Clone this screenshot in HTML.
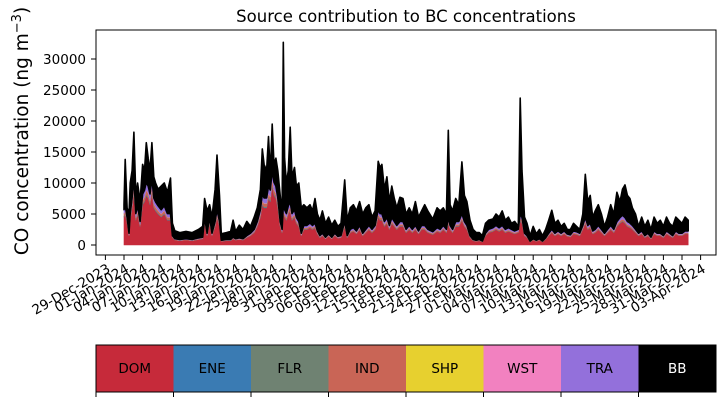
<!DOCTYPE html>
<html><head><meta charset="utf-8"><style>
html,body{margin:0;padding:0;background:#fff;width:725px;height:402px;overflow:hidden}
svg text{font-family:"DejaVu Sans","Liberation Sans",sans-serif;fill:#000}
</style></head><body>
<svg id="chart" width="725" height="402" viewBox="0 0 725 402" xmlns="http://www.w3.org/2000/svg">
<text x="406" y="22" font-size="16.5" text-anchor="middle">Source contribution to BC concentrations</text>
<text transform="translate(28,131) rotate(-90)" font-size="18.5" text-anchor="middle">CO concentration (ng m<tspan baseline-shift="super" font-size="13">−3</tspan>)</text>
<g id="areas"></g>
<g id="yaxis"></g>
<g id="xaxis"></g>
<rect x="96" y="30" width="620" height="225" fill="none" stroke="#000" stroke-width="1"/>
<g id="legend"></g>
</svg>
<script>
const times=[0,0.2,0.5,0.8,1,1.3,1.6,1.9,2.2,2.6,3,3.3,3.6,3.9,4.2,4.5,4.8,5.1,5.5,6,6.5,7,7.5,7.8,8.2,9,10,11,12,12.7,13,13.4,13.8,14.2,14.7,15,15.4,15.7,16.5,17.2,17.6,18,18.6,19.2,19.8,20.4,21,21.5,22,22.3,22.6,23,23.3,23.6,23.9,24.2,24.5,24.8,25.2,25.5,25.7,25.9,26.2,26.5,26.8,27.1,27.5,27.8,28.2,28.6,29,29.5,30,30.4,30.8,31.2,31.6,32,32.5,33,33.5,34,34.5,35,35.6,36,36.5,37,37.5,38,38.5,39,39.5,40,40.5,41,41.3,41.6,42,42.4,42.8,43.2,43.6,44,44.5,45,45.5,46,46.5,47,47.5,48,48.5,49,49.8,50.5,51,51.5,52,52.3,52.6,53,53.5,54,54.5,54.9,55.3,55.8,56.3,56.8,57.3,57.8,58.3,58.8,59.5,60,60.5,61,61.5,62,62.5,63,63.6,63.9,64.2,64.6,65,65.5,66,66.5,67,67.5,68,68.5,69,69.5,70,70.5,71,71.5,72,72.5,73,73.5,74,74.4,74.8,75.2,75.6,76,76.5,77,77.5,78,78.5,79,79.5,80,80.4,80.8,81.2,81.6,82,82.5,83,83.5,84,84.5,85,85.5,86,86.5,87,87.5,88,88.5,89,89.5,90,90.5,91];
const total=[6500,13800,6000,5000,10000,12000,18200,8000,10000,7000,13000,12000,16500,14000,12000,16500,11000,10000,9000,9500,10000,8500,10800,3500,2300,2000,2200,2000,2500,3000,7500,5500,6500,4500,9000,14500,8000,1800,2000,2200,4000,2200,3200,2500,3800,3000,4500,6000,9000,15500,13000,12000,17500,11500,19500,13000,14000,12000,8000,5000,32700,14000,10000,12000,19000,11000,12500,9500,10000,6000,6500,6000,6500,5500,7500,5000,4000,5500,3500,4500,3200,4000,3000,3500,10500,4000,6000,6500,5500,7000,5000,6000,6500,4500,5500,13500,12500,13000,9000,11000,7000,9500,7500,6000,7700,7500,5000,6000,5000,7000,4500,5500,6500,5500,4200,6000,5500,6000,5000,18500,6500,5500,7500,6500,13400,8000,7000,4000,2500,2000,2000,1500,3500,4000,4200,5000,4500,5500,4000,4500,3500,3800,3000,23700,12000,4500,3500,1500,3000,1800,2500,1500,2500,4000,5600,3500,4000,3000,3500,2500,2500,3500,3000,2500,5000,11400,7000,8000,4500,5500,6500,5000,3000,4500,6500,5000,8500,7000,9000,9700,8000,7500,6000,5000,3000,4500,3000,4000,2500,4500,3500,4000,3000,4500,3500,3000,4500,4000,3500,4500,4000];
const dom=[4500,5000,3500,1500,4000,6000,8500,4000,5000,3000,6500,7000,8000,7500,6500,8500,6000,5500,5000,4500,5000,4000,4000,1200,800,700,800,700,900,1000,3500,1500,3500,1500,3000,4500,3000,600,700,700,1000,800,900,800,1200,1500,2000,3000,4500,6500,6000,6000,7500,7000,9500,8000,7500,6000,3000,2000,5000,4500,4000,5000,5500,4000,4500,3500,3000,1500,2500,2500,2800,2500,2800,1800,1200,1500,1000,1400,1000,1500,1100,1200,3000,1200,2000,2200,1800,2500,1500,2000,2500,2000,2500,4500,4000,4000,3000,3500,2500,3500,3000,2500,3000,3000,2000,2500,2000,2500,1800,2500,2500,2000,1700,2200,2000,2500,2000,3500,2500,2000,3000,3000,4000,3000,2500,1200,700,600,700,500,1500,2000,2200,2500,2200,2500,2000,2200,2000,1800,2000,4000,3500,1500,1200,500,800,600,800,500,900,1500,2000,1500,1800,1500,1800,1400,1300,1800,1700,1500,2500,3500,2500,2800,1800,2000,2500,2000,1500,2000,2500,2000,3000,3500,3800,3500,3000,2800,2500,2000,1500,1800,1200,1500,1000,1800,1500,1500,1200,1800,1500,1200,1800,1500,1500,1800,1800];
const sources=["DOM","ENE","FLR","IND","SHP","WST","TRA","BB"];
const colors=["#c62a3a","#3a7bb3","#6f8272","#c96556","#e7d02f","#f281c0","#9370db","#000000"];
// share of each non-BB sector relative to DOM (read from band thicknesses)
const shareOfDom=[1,0.01,0.02,0.08,0.005,0.01,0.14];
const yTicks=[0,5000,10000,15000,20000,25000,30000];
const xTickLabels=["29-Dec-2023","01-Jan-2024","04-Jan-2024","07-Jan-2024","10-Jan-2024","13-Jan-2024","16-Jan-2024","19-Jan-2024","22-Jan-2024","25-Jan-2024","28-Jan-2024","31-Jan-2024","03-Feb-2024","06-Feb-2024","09-Feb-2024","12-Feb-2024","15-Feb-2024","18-Feb-2024","21-Feb-2024","24-Feb-2024","27-Feb-2024","01-Mar-2024","04-Mar-2024","07-Mar-2024","10-Mar-2024","13-Mar-2024","16-Mar-2024","19-Mar-2024","22-Mar-2024","25-Mar-2024","28-Mar-2024","31-Mar-2024","03-Apr-2024"];
const xTickDays=[-3,0,3,6,9,12,15,18,21,24,27,30,33,36,39,42,45,48,51,54,57,60,63,66,69,72,75,78,81,84,87,90,93];

const NS="http://www.w3.org/2000/svg";
const xS=d=>124+6.2*d;
const yS=v=>245-v*31/5000;
function mk(t,a){const e=document.createElementNS(NS,t);for(const k in a)e.setAttribute(k,a[k]);return e;}

const n=times.length;
let lower=new Array(n).fill(0);
const areas=document.getElementById('areas');
for(let s=0;s<sources.length;s++){
  const upper=[];
  for(let i=0;i<n;i++){
    let v;
    if(s<7) v=dom[i]*shareOfDom[s];
    else v=Math.max(0,total[i]-lower[i]);
    upper.push(lower[i]+v);
  }
  let pts=[];
  for(let i=0;i<n;i++)pts.push(xS(times[i]).toFixed(1)+","+yS(upper[i]).toFixed(1));
  for(let i=n-1;i>=0;i--)pts.push(xS(times[i]).toFixed(1)+","+yS(lower[i]).toFixed(1));
  const p=mk('polygon',{points:pts.join(' '),fill:colors[s],stroke:colors[s],'stroke-width':s===7?1.6:0.6,'stroke-linejoin':'round'});
  
  
  areas.appendChild(p);
  lower=upper;
}

const ya=document.getElementById('yaxis');
yTicks.forEach(v=>{
  const y=yS(v);
  const l=mk('line',{x1:91,x2:96,y1:y,y2:y,stroke:'#000'});
  
  
  ya.appendChild(l);
  const t=mk('text',{x:86,y:y+5,'font-size':13.5,'text-anchor':'end'});
  
  
  t.textContent=v;ya.appendChild(t);
});

const xa=document.getElementById('xaxis');
xTickDays.forEach((d,i)=>{
  const x=xS(d);
  const l=mk('line',{x1:x,x2:x,y1:255,y2:260,stroke:'#000'});
  
  
  xa.appendChild(l);
  const t=mk('text',{transform:`translate(${x+1},${263}) rotate(-30)`,'font-size':13.5,'text-anchor':'end','dominant-baseline':'hanging'});
  
  
  t.textContent=xTickLabels[i];xa.appendChild(t);
});

const lg=document.getElementById('legend');
const w=620/sources.length;
sources.forEach((s,i)=>{
  const x=96+i*w;
  const r=mk('rect',{x:x,y:345,width:w+0.3,height:47,fill:colors[i]});
  
  
  lg.appendChild(r);
  const t=mk('text',{x:x+w/2,y:373,'font-size':13.5,'text-anchor':'middle'});
  if(i===7)t.setAttribute('style','fill:#fff');
  
  
  t.textContent=s;lg.appendChild(t);
  const tk=mk('line',{x1:x,x2:x,y1:392,y2:397,stroke:'#000'});
  
  
  lg.appendChild(tk);
});
const fr=mk('rect',{x:96,y:345,width:620,height:47,fill:'none',stroke:'#000'});


lg.appendChild(fr);
</script>
</body></html>
